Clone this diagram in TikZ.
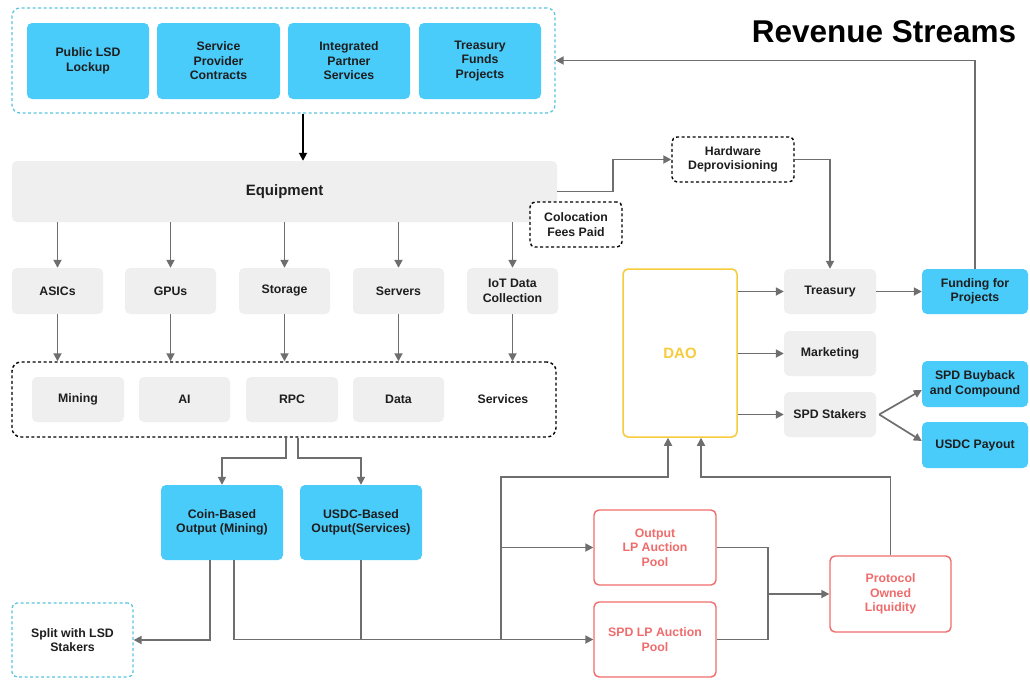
\documentclass[tikz,border=0pt]{standalone}
\usepackage{fontspec}
\setmainfont{Liberation Sans}
\usetikzlibrary{arrows.meta,calc}
\definecolor{cyanc}{RGB}{74,204,251}
\definecolor{cyand}{RGB}{92,196,222}
\definecolor{grayc}{RGB}{239,239,239}
\definecolor{linec}{RGB}{110,110,110}
\definecolor{redc}{RGB}{240,108,108}
\definecolor{yelc}{RGB}{247,204,60}
\definecolor{txtc}{RGB}{30,30,30}
\tikzset{
  box/.style={rounded corners=5pt, align=center, inner sep=0pt, text=txtc,
    font=\bfseries\fontsize{12.3}{14.5}\selectfont},
  cyanbox/.style={box, fill=cyanc},
  graybox/.style={box, fill=grayc},
  dashbox/.style={box, draw=black, line width=1.4pt, dash pattern=on 3pt off 2.5pt, fill=white},
  cyandash/.style={box, draw=cyand, line width=1.3pt, dash pattern=on 3pt off 2.5pt},
  redbox/.style={box, draw=redc, line width=1.4pt, text=redc, fill=white},
  conn/.style={draw=linec, line width=1.7pt, -{Triangle[length=8pt,width=8pt]}},
  plainline/.style={draw=linec, line width=1.7pt},
}
\begin{document}
\begin{tikzpicture}[x=1pt,y=-1pt]
\useasboundingbox (0,0) rectangle (1030,680);
\fill[white] (0,0) rectangle (1030,680);

% title
\node[font=\bfseries\fontsize{31.5}{36}\selectfont, anchor=center] (title) at (884,32) {Revenue Streams};

% top container
\node[cyandash, minimum width=543pt, minimum height=105pt, rounded corners=8pt] (top) at (283.5,60.5) {};
\node[cyanbox, minimum width=122pt, minimum height=76pt] (p1) at (88,61) {Public LSD\\Lockup};
\node[cyanbox, minimum width=123pt, minimum height=76pt] (p2) at (218.5,61) {Service\\Provider\\Contracts};
\node[cyanbox, minimum width=122pt, minimum height=76pt] (p3) at (349,61) {Integrated\\Partner\\Services};
\node[cyanbox, minimum width=122pt, minimum height=76pt] (p4) at (480,61) {Treasury\\Funds\\Projects};

% equipment
\node[graybox, minimum width=545pt, minimum height=61pt, font=\bfseries\fontsize{15}{18}\selectfont] (equip) at (284.5,191.5) {Equipment};
\node[dashbox, minimum width=92pt, minimum height=45pt] (coloc) at (576,224.5) {Colocation\\Fees Paid};
\node[dashbox, minimum width=122pt, minimum height=45pt] (hw) at (733,159.5) {Hardware\\Deprovisioning};

% hardware row
\node[graybox, minimum width=91pt, minimum height=46pt] (asics) at (57.5,291) {ASICs};
\node[graybox, minimum width=91pt, minimum height=46pt] (gpus) at (170.5,291) {GPUs};
\node[graybox, minimum width=91pt, minimum height=46pt] (storage) at (284.5,291) {Storage};
\node[graybox, minimum width=91pt, minimum height=46pt] (servers) at (398.5,291) {Servers};
\node[graybox, minimum width=91pt, minimum height=46pt] (iot) at (512.5,291) {IoT Data\\Collection};

% services container
\node[dashbox, fill=none, minimum width=544pt, minimum height=75pt, rounded corners=9pt] (svc) at (284,399.5) {};
\node[graybox, minimum width=92pt, minimum height=45pt] (mining) at (78,399.5) {Mining};
\node[graybox, minimum width=91pt, minimum height=45pt] (ai) at (184.5,399.5) {AI};
\node[graybox, minimum width=92pt, minimum height=45pt] (rpc) at (292,399.5) {RPC};
\node[graybox, minimum width=91pt, minimum height=45pt] (data) at (398.5,399.5) {Data};
\node[box] (services) at (503,399) {Services};

% outputs
\node[cyanbox, minimum width=122pt, minimum height=75pt] (coin) at (222,522.5) {Coin-Based\\Output (Mining)};
\node[cyanbox, minimum width=122pt, minimum height=75pt] (usdcb) at (361,522.5) {USDC-Based\\Output(Services)};
\node[cyandash, minimum width=121pt, minimum height=74pt] (split) at (72.5,640) {Split with LSD\\Stakers};

% pools
\node[redbox, minimum width=122pt, minimum height=75pt] (outlp) at (655,547.5) {Output\\LP Auction\\Pool};
\node[redbox, minimum width=122pt, minimum height=75pt] (spdlp) at (655,639.5) {SPD LP Auction\\Pool};
\node[redbox, minimum width=121pt, minimum height=76pt] (pol) at (890.5,594) {Protocol\\Owned\\Liquidity};

% DAO
\node[box, draw=yelc, line width=1.5pt, text=yelc, minimum width=114pt, minimum height=168pt, font=\bfseries\fontsize{15}{18}\selectfont] (dao) at (680,353) {DAO};
\node[graybox, minimum width=92pt, minimum height=45pt] (treasury) at (830,291.5) {Treasury};
\node[graybox, minimum width=92pt, minimum height=45pt] (marketing) at (830,353.5) {Marketing};
\node[graybox, minimum width=92pt, minimum height=45pt] (stakers) at (830,414.5) {SPD Stakers};
\node[cyanbox, minimum width=106pt, minimum height=45pt] (funding) at (975,291.5) {Funding for\\Projects};
\node[cyanbox, minimum width=106pt, minimum height=46pt] (buyback) at (975,384) {SPD Buyback\\and Compound};
\node[cyanbox, minimum width=106pt, minimum height=46pt] (payout) at (975,445) {USDC Payout};

% connectors
\draw[conn, draw=black] ([xshift=19.5pt]top.south) -- ([xshift=18.5pt]equip.north);
\foreach \n in {asics,gpus,storage,servers,iot}{
  \draw[conn] (equip.south -| \n) -- (\n.north);
  \draw[conn] (\n.south) -- (\n.south |- svc.north);
}
\draw[conn] (equip.east) -- ++(56,0) |- (hw.west);
\draw[conn] (hw.east) -| (treasury.north);

\draw[conn] ([xshift=2pt]svc.south) -- ++(0,20) -| (coin.north);
\draw[conn] ([xshift=14pt]svc.south) -- ++(0,20) -| (usdcb.north);

\draw[conn] ([xshift=-12pt]coin.south) |- (split.east);
\draw[conn] ([xshift=12pt]coin.south) |- (spdlp.west);
\draw[plainline] (usdcb.south) -- (usdcb.south |- spdlp.west);

\coordinate (jx) at (501,477);
\draw[conn] (jx |- spdlp.west) -- (jx) -| ([xshift=-12pt]dao.south);
\draw[conn] (jx |- outlp.west) -- (outlp.west);

\coordinate (m) at (768,594);
\draw[plainline] (outlp.east) -| (m) |- (spdlp.east);
\draw[conn] (m) -- (pol.west);
\draw[conn] (pol.north) -- (pol.north |- jx) -| ([xshift=21pt]dao.south);

\draw[conn] (dao.east |- treasury) -- (treasury.west);
\draw[conn] (dao.east |- marketing) -- (marketing.west);
\draw[conn] (dao.east |- stakers) -- (stakers.west);
\draw[conn] (treasury.east) -- (funding.west);
\draw[conn] (funding.north) |- (top.east);
\draw[conn] ([xshift=3pt]stakers.east) -- ([yshift=-6pt]buyback.west);
\draw[conn] ([xshift=3pt]stakers.east) -- ([yshift=4pt]payout.west);
\end{tikzpicture}
\end{document}
